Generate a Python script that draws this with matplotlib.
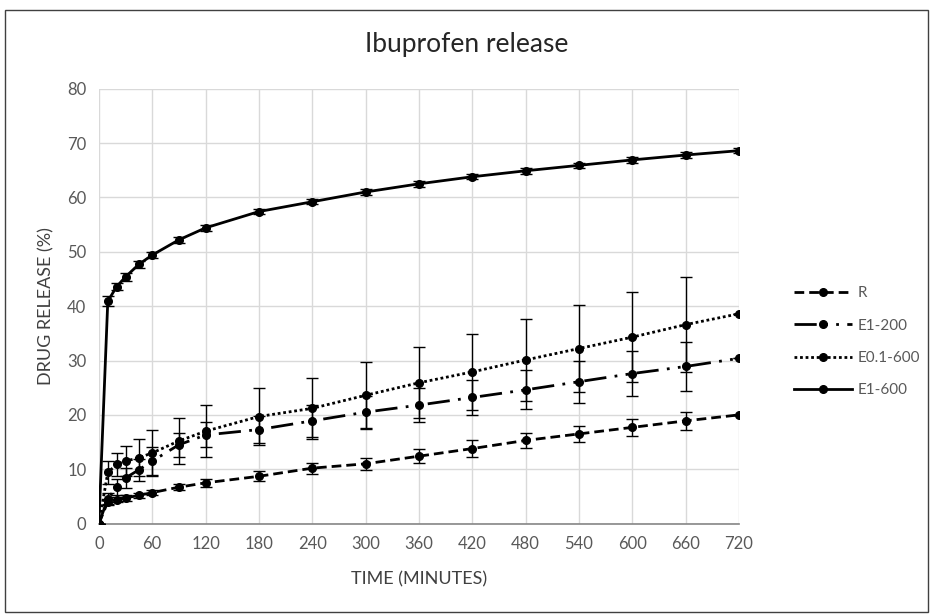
import matplotlib
matplotlib.use("Agg")
import matplotlib.pyplot as plt
from matplotlib.patches import Rectangle

# sampling times (minutes)
time_min = [0, 10, 20, 30, 45, 60, 90, 120, 180, 240, 300, 360, 420, 480, 540, 600, 660, 720]

# drug release (%) per formulation
r_vals = [0, 4.0, 4.4, 4.7, 5.2, 5.7, 6.7, 7.5, 8.7, 10.2, 11.0, 12.4, 13.8, 15.3, 16.5, 17.7, 18.9, 20.0]
r_err = [0, 0.5, 0.5, 0.5, 0.5, 0.5, 0.6, 0.7, 0.9, 1.0, 1.1, 1.3, 1.5, 1.4, 1.5, 1.6, 1.7, 0]

e1_200_vals = [0, 4.6, 6.7, 8.4, 9.9, 11.5, 14.5, 16.3, 17.3, 18.9, 20.5, 21.8, 23.2, 24.6, 26.1, 27.6, 28.9, 30.4]
e1_200_err = [0, 1.0, 1.5, 1.8, 2.0, 2.5, 2.2, 2.3, 2.5, 3.0, 3.0, 3.1, 3.3, 3.6, 3.9, 4.1, 4.5, 0]

e01_600_vals = [0, 9.4, 10.9, 11.5, 12.1, 13.0, 15.2, 17.0, 19.7, 21.2, 23.6, 25.9, 27.9, 30.1, 32.2, 34.3, 36.6, 38.6]
e01_600_err = [0, 2.1, 2.1, 2.8, 3.4, 4.3, 4.3, 4.8, 5.2, 5.6, 6.2, 6.5, 7.0, 7.6, 8.0, 8.3, 8.8, 0]

e1_600_vals = [0, 40.9, 43.6, 45.4, 47.7, 49.4, 52.2, 54.4, 57.4, 59.2, 61.0, 62.5, 63.8, 64.9, 65.9, 66.9, 67.8, 68.6]
e1_600_err = [0, 0.9, 0.7, 0.7, 0.6, 0.6, 0.6, 0.5, 0.5, 0.5, 0.5, 0.5, 0.5, 0.5, 0.5, 0.5, 0.5, 0.5]

labels = ["R", "E1-200", "E0.1-600", "E1-600"]
x_ticks = list(range(0, 721, 60))
y_ticks = list(range(0, 81, 10))

plt.rcParams['font.family'] = ['Lato', 'DejaVu Sans']

fig = plt.figure(figsize=(9.33, 6.16), dpi=100)
ax = fig.add_axes([0.106, 0.150, 0.686, 0.706])

series = [
    (r_vals, r_err, (0, (3.5, 1.8))),
    (e1_200_vals, e1_200_err, (0, (8, 3, 1, 3, 1, 3))),
    (e01_600_vals, e01_600_err, (0, (1, 1))),
    (e1_600_vals, e1_600_err, "-"),
]

handles = []
for (vals, err, ls), lab in zip(series, labels):
    ax.errorbar(time_min, vals, yerr=err, fmt="none", ecolor="black",
                elinewidth=1, capsize=4, capthick=1, zorder=3)
    ln, = ax.plot(time_min, vals, color="black", lw=2, linestyle=ls,
                  marker="o", markersize=5.5, label=lab, zorder=4)
    handles.append(ln)

ax.set_xlim(0, 720)
ax.set_ylim(0, 80)
ax.set_xticks(x_ticks)
ax.set_yticks(y_ticks)
ax.grid(True, color="#d9d9d9", lw=1)
ax.set_axisbelow(True)
for s in ["top", "right", "left"]:
    ax.spines[s].set_visible(False)
ax.spines["bottom"].set_color("#868686")
ax.spines["bottom"].set_linewidth(1.2)
ax.tick_params(length=0, labelsize=12, labelcolor="#595959", pad=9)

ax.set_xlabel("TIME (MINUTES)", fontsize=13, color="#404040", labelpad=14)
ax.set_ylabel("DRUG RELEASE (%)", fontsize=13, color="#404040", labelpad=9)
fig.text(0.5, 0.927, "Ibuprofen release", ha="center", va="center",
         fontsize=19, color="#262626")

fig.legend(handles=handles, loc="center left", bbox_to_anchor=(0.836, 0.445),
           frameon=False, fontsize=11, handlelength=3.8, labelspacing=1.2,
           numpoints=1, handletextpad=0.4, labelcolor="#595959")

fig.patches.append(Rectangle((5 / 933, 4 / 616), 923 / 933, 602 / 616,
                             transform=fig.transFigure, fill=False,
                             edgecolor="#404040", lw=1))

fig.savefig("out.png", dpi=100)
